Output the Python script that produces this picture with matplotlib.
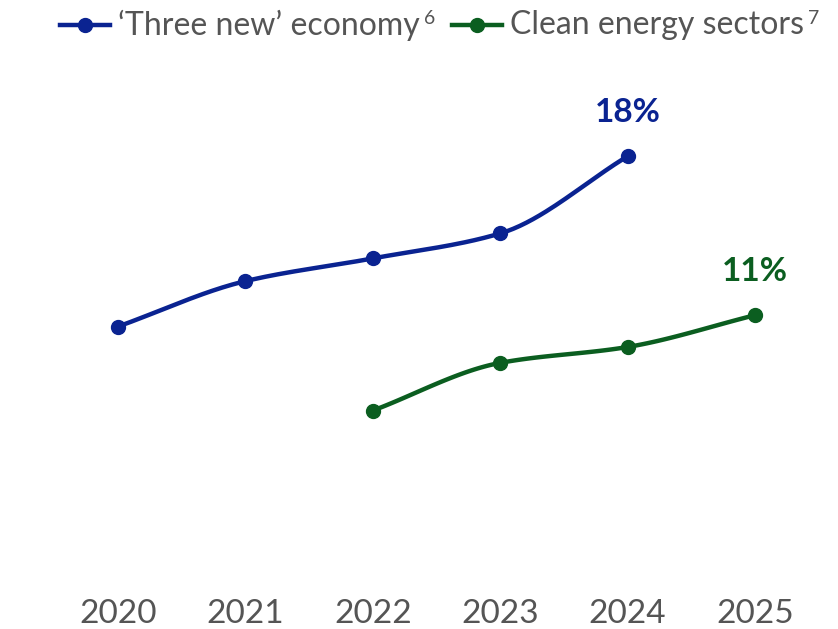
import numpy as np
import matplotlib.pyplot as plt
from matplotlib.lines import Line2D

# --- Data (share, %) ---
years_new = [2020, 2021, 2022, 2023, 2024]
share_new = [10.5, 12.5, 13.5, 14.6, 18.0]

years_clean = [2022, 2023, 2024, 2025]
share_clean = [6.8, 8.9, 9.6, 11.0]

all_years = [2020, 2021, 2022, 2023, 2024, 2025]

BLUE = "#0a2391"
GREEN = "#0b5e20"
GREY = "#555555"
FONT = "Lato"


def monotone(x, y, n=40):
    # monotone cubic (Fritsch-Carlson) path through the points, for a smooth line
    x = np.asarray(x, float)
    y = np.asarray(y, float)
    h = np.diff(x)
    d = np.diff(y) / h
    m = np.zeros_like(y)
    m[0], m[-1] = d[0], d[-1]
    for i in range(1, len(y) - 1):
        if d[i - 1] * d[i] <= 0:
            m[i] = 0
        else:
            w1 = 2 * h[i] + h[i - 1]
            w2 = h[i] + 2 * h[i - 1]
            m[i] = (w1 + w2) / (w1 / d[i - 1] + w2 / d[i])
    xs, ys = [], []
    for i in range(len(h)):
        t = np.linspace(0, 1, n)
        h00 = 2 * t**3 - 3 * t**2 + 1
        h10 = t**3 - 2 * t**2 + t
        h01 = -2 * t**3 + 3 * t**2
        h11 = t**3 - t**2
        xs.append(x[i] + t * h[i])
        ys.append(h00 * y[i] + h10 * h[i] * m[i] + h01 * y[i + 1] + h11 * h[i] * m[i + 1])
    return np.concatenate(xs), np.concatenate(ys)


fig = plt.figure(figsize=(8.38, 6.29), dpi=100)
ax = fig.add_axes([0, 0, 1, 1])
ax.set_xlim(2020 - 118 / 127.4, 2025 + 83 / 127.4)
ax.set_ylim((565 - 629) / 22.71, 565 / 22.71)
ax.axis("off")

for yrs, vals, col in [(years_new, share_new, BLUE), (years_clean, share_clean, GREEN)]:
    sx, sy = monotone(yrs, vals)
    ax.plot(sx, sy, color=col, lw=3.2, solid_capstyle="round", zorder=2)
    ax.plot(yrs, vals, "o", color=col, ms=10, zorder=3)
    ax.annotate(f"{vals[-1]:.0f}%", (yrs[-1], vals[-1]), xytext=(0, 21),
                textcoords="offset points", ha="center", va="bottom",
                color=col, fontsize=24, fontweight="bold", family=FONT)

# year labels along the bottom
for yr in all_years:
    ax.text(yr, -2.15, str(yr), ha="center", va="center", color=GREY,
            fontsize=24, family=FONT)

# legend row
legend_y = 25 / 629
items = [(60, 118, BLUE, "\u2018Three new\u2019 economy", "6"),
         (452, 510, GREEN, "Clean energy sectors", "7")]
r = fig.canvas.get_renderer()
for x0, xt, col, label, sup in items:
    fig.add_artist(Line2D([x0 / 838, (x0 + 50) / 838], [1 - legend_y] * 2,
                          color=col, lw=3.2))
    fig.add_artist(Line2D([(x0 + 25) / 838], [1 - legend_y], color=col,
                          marker="o", ms=10, ls="none"))
    t = fig.text(xt / 838, 1 - legend_y, label, ha="left", va="center",
                 color=GREY, fontsize=23, family=FONT)
    bb = t.get_window_extent(renderer=r)
    fig.text(bb.x1 / 838 + 4 / 838, 1 - 19 / 629, sup, ha="left", va="center",
             color=GREY, fontsize=14, family=FONT)

fig.savefig("out.png", dpi=100)
